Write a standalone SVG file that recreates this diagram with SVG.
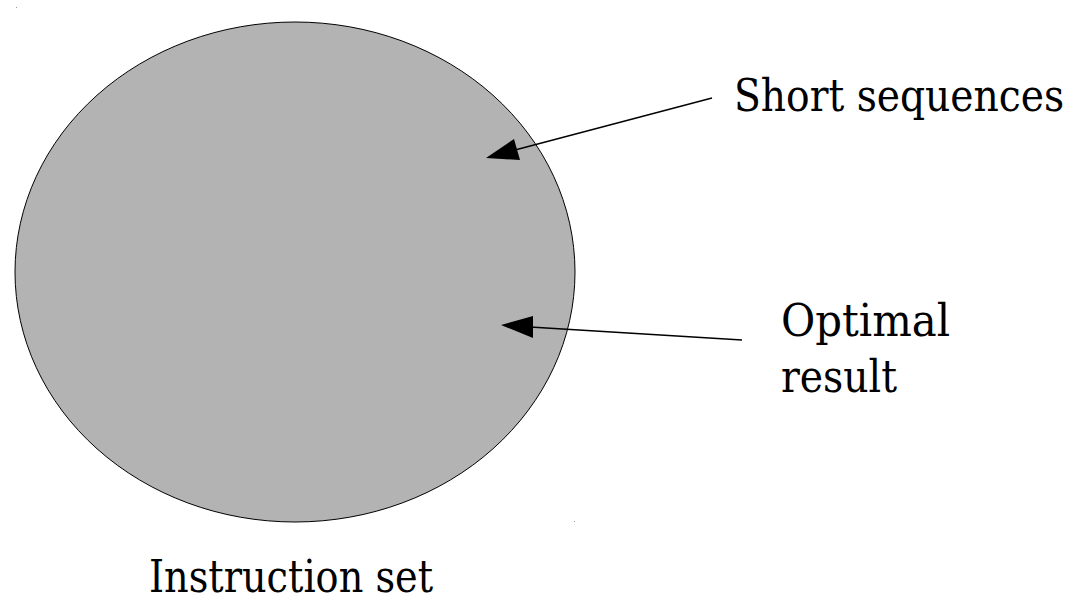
<svg xmlns="http://www.w3.org/2000/svg" width="1077" height="598" viewBox="0 0 1077 598">
<style>
.lbl{font-family:"DejaVu Serif Condensed","DejaVu Serif","Liberation Serif",serif;font-stretch:condensed;font-size:45px;fill:#000}
.conn{stroke:#000;stroke-width:1.3;fill:none}
.head{fill:#000;stroke:none}
</style>
<rect width="1077" height="598" fill="#fff"/>
<rect x="16" y="7" width="1" height="1" fill="#999"/>
<rect x="574" y="521" width="1" height="1" fill="#999"/>
<g id="instruction-set">
<ellipse cx="295" cy="272" rx="280" ry="250" fill="#b3b3b3" stroke="#000" stroke-width="1"/>
<text class="lbl" x="149" y="592" textLength="284" lengthAdjust="spacingAndGlyphs">Instruction set</text>
</g>
<g id="short-sequences">
<text class="lbl" x="734" y="111" textLength="330" lengthAdjust="spacingAndGlyphs">Short sequences</text>
</g>
<g id="optimal-result">
<text class="lbl" x="781" y="336" textLength="169" lengthAdjust="spacingAndGlyphs">Optimal</text>
<text class="lbl" x="781" y="392" textLength="116" lengthAdjust="spacingAndGlyphs">result</text>
</g>
<g id="connectors">
<line class="conn" x1="712" y1="98" x2="515" y2="150"/>
<polygon class="head" points="486,158 514,139 520,160"/>
<line class="conn" x1="742" y1="340" x2="530" y2="327"/>
<polygon class="head" points="501,325 533,316 533,338"/>
</g>
</svg>
